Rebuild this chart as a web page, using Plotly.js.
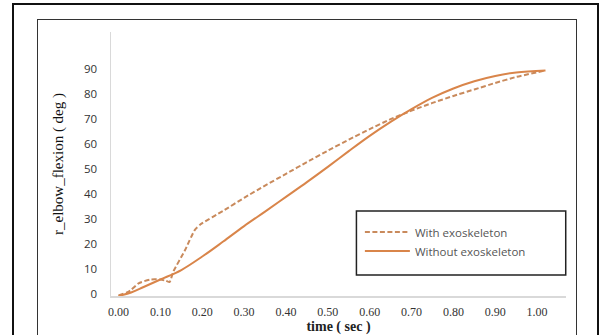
<!DOCTYPE html>
<html><head><meta charset="utf-8">
<script src="https://cdn.plot.ly/plotly-3.0.1.min.js"></script>
<style>
html,body{margin:0;padding:0;background:#fff;}
#wrap{position:relative;width:605px;height:335px;}
#chart{width:605px;height:335px;}
.frame{position:absolute;pointer-events:none;box-sizing:border-box;}
</style></head>
<body>
<div id="wrap">
<div id="chart"></div>
<div class="frame" style="left:12px;top:3px;width:587px;height:340px;border:2px solid #111;"></div>
<div class="frame" style="left:37px;top:19px;width:540px;height:320px;border:1.5px solid #333;"></div>
</div>
<script>
const timeWith = [0.00,0.02,0.03,0.048,0.076,0.10,0.113,0.122,0.131,0.159,0.182,0.196,0.25,0.30,0.35,0.40,0.45,0.50,0.55,0.60,0.65,0.70,0.75,0.80,0.85,0.90,0.95,1.02];
const withExo  = [-0.6,0.6,1.6,4.3,5.8,5.8,5.3,4.8,9.0,17.6,25.6,27.9,33.3,38.5,43.4,48.1,52.8,57.4,61.8,66.0,70.0,73.4,76.5,79.3,81.9,84.5,86.9,89.5];
const timeWithout = [0.00,0.03,0.06,0.10,0.15,0.20,0.25,0.30,0.35,0.40,0.45,0.50,0.55,0.60,0.65,0.70,0.75,0.80,0.85,0.90,0.95,1.02];
const withoutExo  = [-0.8,0.6,2.8,5.8,9.6,15.0,21.0,27.2,33.0,38.9,44.8,50.9,57.2,63.3,68.9,74.0,78.6,82.3,85.2,87.3,88.7,89.5];
const xTicks = [0,0.1,0.2,0.3,0.4,0.5,0.6,0.7,0.8,0.9,1.0];
const xTickText = ['0.00','0.10','0.20','0.30','0.40','0.50','0.60','0.70','0.80','0.90','1.00'];
const yTicks = [0,10,20,30,40,50,60,70,80,90];

const traces = [
  {x: timeWith, y: withExo, name: 'With exoskeleton', mode: 'lines', line: {color: '#c98a5c', width: 2, dash: '5px,2.5px', shape: 'spline', smoothing: 0.5}},
  {x: timeWithout, y: withoutExo, name: 'Without exoskeleton', mode: 'lines', line: {color: '#d9854a', width: 2, shape: 'spline', smoothing: 1}}
];

const layout = {
  width: 605, height: 335,
  margin: {l: 110.5, r: 39, t: 31.7, b: 39},
  paper_bgcolor: '#fff', plot_bgcolor: '#fff',
  showlegend: true,
  legend: {x: 0.547, y: 0.297, xanchor: 'left', yanchor: 'top', bgcolor: 'rgba(0,0,0,0)', itemwidth: 45,
           font: {family: 'Open Sans, sans-serif', size: 11.5, color: '#555'}, tracegroupgap: 0},
  xaxis: {range: [-0.018, 1.069], showgrid: false, zeroline: false, showline: true, linecolor: '#d9d9d9', linewidth: 1.5,
          tickvals: xTicks, ticktext: xTickText, ticks: '', ticklabelstandoff: 4,
          tickfont: {family: 'Liberation Serif, serif', size: 12, color: '#333'},
          title: {text: '<b>time ( sec )</b>', font: {family: 'Liberation Serif, serif', size: 14, color: '#222'}, standoff: 2}},
  yaxis: {range: [-0.8, 104.9], showgrid: false, zeroline: false, showline: true, linecolor: '#d9d9d9', linewidth: 1.5,
          tickvals: yTicks, ticks: '', ticklabelstandoff: 10,
          tickfont: {family: 'Open Sans, sans-serif', size: 11.5, color: '#333'},
          title: {text: 'r_elbow_flexion ( deg )', font: {family: 'Liberation Serif, serif', size: 15, color: '#111'}, standoff: 17}},
  shapes: [
    {type: 'rect', xref: 'paper', yref: 'paper', x0: 0.5394, x1: 0.9994, y0: 0.0795, y1: 0.3216, line: {color: '#222', width: 1.5}}
  ]
};
Plotly.newPlot('chart', traces, layout, {displayModeBar: false, staticPlot: true});
</script>
</body></html>
